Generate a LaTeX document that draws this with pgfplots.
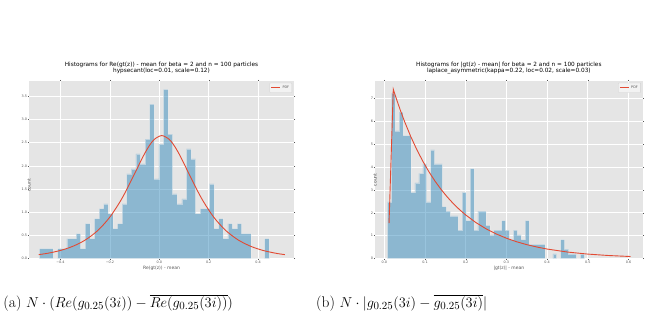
\documentclass[border=0pt]{standalone}
\usepackage[no-math]{fontspec}
\usepackage{pgfplots}
\pgfplotsset{compat=1.18}
\newfontfamily\plotfont{DejaVu Sans}

\definecolor{ggbg}{HTML}{E5E5E5}
\definecolor{ggblue}{HTML}{348ABD}
\definecolor{ggred}{HTML}{E24A33}
\definecolor{gglabel}{HTML}{555555}
\definecolor{ggedge}{HTML}{EEEEEE}

\pgfplotsset{
  ggstyle/.style={
    scale only axis,
    axis background/.style={fill=ggbg},
    axis line style={draw=none},
    grid=major,
    major grid style={white, line width=0.6bp},
    tick align=outside,
    major tick length=1.2bp,
    tick style={gglabel, line width=0.4bp},
    ticklabel style={font=\plotfont\fontsize{3.4}{3.8}\selectfont, text=gglabel, inner sep=0.6bp},
    label style={font=\plotfont\fontsize{4.5}{5}\selectfont, text=gglabel},
    title style={font=\plotfont\fontsize{5.8}{6.4}\selectfont, align=center, inner sep=0.8bp},
    legend style={at={(rel axis cs:0.993,0.99)}, anchor=north east,
      fill=ggbg!50!white, draw=gray!35, rounded corners=0.6bp,
      font=\plotfont\fontsize{3.4}{4}\selectfont, text=gglabel,
      inner sep=0.8bp, row sep=0bp},
    legend cell align=left,
    legend image code/.code={\draw[ggred, line width=1bp] (0bp,0bp) -- (9bp,0bp);},
  },
  hist/.style={const plot, fill=ggblue, fill opacity=0.5,
    draw=ggedge, draw opacity=0.5, line width=0.5bp, forget plot},
  pdf/.style={ggred, line width=0.9bp},
}

% histogram densities: left bin edge, density (last row closes the final bin)
\pgfplotstableread{
x y
-0.4860 0.2148
-0.4674 0.2148
-0.4488 0.2148
-0.4301 0.0
-0.4115 0.2148
-0.3929 0.2148
-0.3743 0.4296
-0.3557 0.4296
-0.3370 0.5370
-0.3184 0.2148
-0.2998 0.7518
-0.2812 0.4296
-0.2626 0.8592
-0.2439 1.0740
-0.2253 1.1814
-0.2067 0.9666
-0.1881 0.6444
-0.1695 0.7518
-0.1508 1.1814
-0.1322 1.8258
-0.1136 1.9332
-0.0950 2.2554
-0.0764 2.0406
-0.0577 2.5776
-0.0391 3.3294
-0.0205 1.7184
-0.0019 2.4702
0.0167 3.6516
0.0354 2.6850
0.0540 1.3962
0.0726 1.1814
0.0912 1.2888
0.1098 2.3628
0.1285 2.1480
0.1471 0.9666
0.1657 1.0740
0.1843 1.0740
0.2029 1.6110
0.2216 0.6444
0.2402 0.8592
0.2588 0.4296
0.2774 0.7518
0.2960 0.6444
0.3147 0.7518
0.3333 0.5370
0.3519 0.5370
0.3705 0.0
0.3891 0.0
0.4078 0.0
0.4264 0.4296
0.4450 0.4296
}\histre

\pgfplotstableread{
x y
0.0074 2.4792
0.0171 7.2310
0.0268 5.5782
0.0364 6.4046
0.0461 5.3716
0.0558 5.3716
0.0655 2.8924
0.0752 3.3056
0.0848 3.7188
0.0945 4.1320
0.1042 2.4792
0.1139 4.7518
0.1236 4.1320
0.1332 4.1320
0.1429 2.2726
0.1526 2.0660
0.1623 1.8594
0.1720 1.8594
0.1816 1.2396
0.1913 2.8924
0.2010 1.6528
0.2107 3.9254
0.2204 1.2396
0.2300 2.0660
0.2397 2.0660
0.2494 1.4462
0.2591 1.0330
0.2688 1.2396
0.2784 1.2396
0.2881 1.6528
0.2978 1.2396
0.3075 0.8264
0.3172 1.2396
0.3268 1.0330
0.3365 0.8264
0.3462 1.6528
0.3559 0.6198
0.3656 0.6198
0.3752 0.6198
0.3849 0.6198
0.3946 0.0
0.4043 0.0
0.4140 0.2066
0.4236 0.0
0.4333 0.8264
0.4430 0.4132
0.4527 0.2066
0.4624 0.2066
0.4720 0.0
0.4817 0.2066
0.4914 0.2066
}\histabs

\begin{document}
\begin{tikzpicture}
\path[use as bounding box] (0bp,0bp) rectangle (649bp,-322bp);

\begin{axis}[ggstyle,
  at={(29bp,-258.5bp)}, anchor=south west,
  width=265bp, height=177.5bp,
  xmin=-0.5275, xmax=0.5453, ymin=0, ymax=3.83,
  xtick={-0.4,-0.2,0,0.2,0.4},
  xticklabels={−0.4,−0.2,0.0,0.2,0.4},
  ytick={0,0.5,1,1.5,2,2.5,3,3.5},
  yticklabels={0.0,0.5,1.0,1.5,2.0,2.5,3.0,3.5},
  title={Histograms for Re(gt(z)) - mean for beta = 2 and n = 100 particles\\hypsecant(loc=0.01, scale=0.12)},
  xlabel={Re(gt(z)) - mean},
  ylabel={count},
  xlabel style={at={(axis description cs:0.5,0)}, anchor=center, yshift=-9.8bp},
  ylabel style={at={(axis description cs:0,0.5)}, anchor=center, xshift=-15.7bp},
]
\addplot[hist] table[x=x, y=y] {\histre} \closedcycle;
\addplot[pdf, smooth, tension=0.5] coordinates {
(-0.488,0.0836) (-0.45,0.1148) (-0.40,0.1739) (-0.35,0.2635) (-0.30,0.3984)
(-0.25,0.5999) (-0.20,0.8948) (-0.15,1.3075) (-0.10,1.8287) (-0.08,2.049)
(-0.06,2.2576) (-0.04,2.438) (-0.02,2.5717) (0.01,2.6526) (0.04,2.5717)
(0.06,2.438) (0.08,2.2576) (0.10,2.049) (0.12,1.8287) (0.17,1.3075)
(0.22,0.8948) (0.27,0.5999) (0.32,0.3984) (0.37,0.2635) (0.42,0.1739)
(0.47,0.1148) (0.508,0.0836)};
\addlegendentry{PDF}
\end{axis}

\begin{axis}[ggstyle,
  at={(375bp,-258.5bp)}, anchor=south west,
  width=267.7bp, height=177.5bp,
  xmin=-0.0229, xmax=0.635, ymin=0, ymax=7.76,
  xtick={0,0.1,0.2,0.3,0.4,0.5,0.6},
  xticklabels={0.0,0.1,0.2,0.3,0.4,0.5,0.6},
  ytick={0,1,2,3,4,5,6,7},
  yticklabels={0,1,2,3,4,5,6,7},
  title={Histograms for |gt(z) - mean| for beta = 2 and n = 100 particles\\laplace\_asymmetric(kappa=0.22, loc=0.02, scale=0.03)},
  xlabel={|gt(z)| - mean},
  ylabel={count},
  xlabel style={at={(axis description cs:0.5,0)}, anchor=center, yshift=-9.8bp},
  ylabel style={at={(axis description cs:0,0.5)}, anchor=center, xshift=-10bp},
]
\addplot[hist] table[x=x, y=y] {\histabs} \closedcycle;
\addplot[pdf] coordinates {
(0.0116,1.55) (0.022,7.40) (0.03,6.962) (0.04,6.451) (0.05,5.977)
(0.065,5.330) (0.08,4.754) (0.095,4.240) (0.11,3.781) (0.125,3.372)
(0.14,3.007) (0.155,2.683) (0.17,2.392) (0.185,2.134) (0.20,1.903)
(0.225,1.572) (0.25,1.299) (0.275,1.074) (0.30,0.887) (0.325,0.733)
(0.35,0.606) (0.375,0.501) (0.40,0.414) (0.45,0.2825) (0.50,0.193)
(0.55,0.1317) (0.605,0.0866)};
\addlegendentry{PDF}
\end{axis}

\node[anchor=base west, inner sep=0pt, font=\fontsize{15.5}{18.5}\selectfont]
  at (3.3bp,-307.6bp) {(a) $N\cdot(Re(g_{0.25}(3i))-\overline{Re(g_{0.25}(3i))})$};
\node[anchor=base west, inner sep=0pt, font=\fontsize{15.5}{18.5}\selectfont]
  at (316bp,-307.6bp) {(b) $N\cdot|g_{0.25}(3i)-\overline{g_{0.25}(3i)}|$};
\end{tikzpicture}
\end{document}
